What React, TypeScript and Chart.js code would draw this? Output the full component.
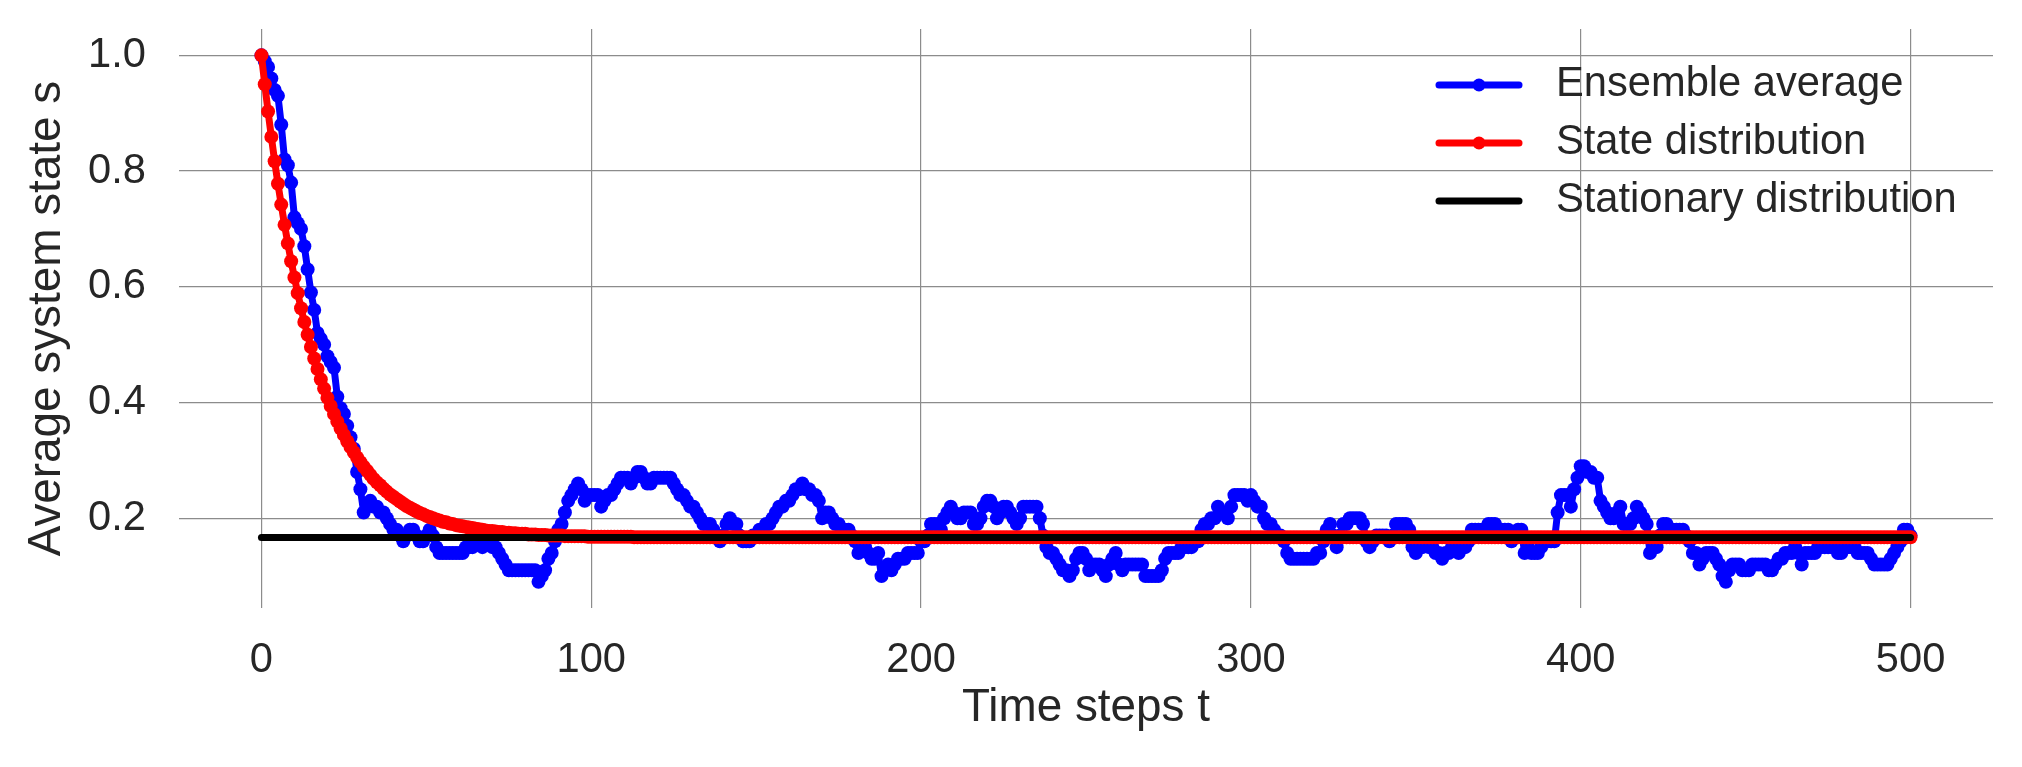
import React, { useEffect, useRef } from 'react';
import { Chart, registerables } from 'chart.js';

Chart.register(...registerables);

// ---- Data ----
const seriesLabels = ['Ensemble average', 'State distribution', 'Stationary distribution'];

const ensembleAverage = [
  1.00, 0.99, 0.98, 0.96, 0.94, 0.93, 0.88, 0.82, 0.81, 0.78,
  0.72, 0.71, 0.70, 0.67, 0.63, 0.59, 0.56, 0.52, 0.51, 0.50,
  0.48, 0.47, 0.46, 0.41, 0.39, 0.38, 0.36, 0.34, 0.32, 0.28,
  0.25, 0.21, 0.22, 0.23, 0.22, 0.22, 0.21, 0.21, 0.20, 0.19,
  0.18, 0.18, 0.17, 0.16, 0.17, 0.18, 0.18, 0.17, 0.16, 0.16,
  0.17, 0.18, 0.17, 0.15, 0.14, 0.14, 0.14, 0.14, 0.14, 0.14,
  0.14, 0.14, 0.15, 0.15, 0.15, 0.16, 0.16, 0.15, 0.16, 0.16,
  0.15, 0.15, 0.14, 0.13, 0.12, 0.11, 0.11, 0.11, 0.11, 0.11,
  0.11, 0.11, 0.11, 0.11, 0.09, 0.10, 0.11, 0.13, 0.14, 0.16,
  0.18, 0.19, 0.21, 0.23, 0.24, 0.25, 0.26, 0.25, 0.23, 0.24,
  0.24, 0.24, 0.24, 0.22, 0.23, 0.24, 0.24, 0.25, 0.26, 0.27,
  0.27, 0.27, 0.26, 0.27, 0.28, 0.28, 0.27, 0.26, 0.26, 0.27,
  0.27, 0.27, 0.27, 0.27, 0.27, 0.26, 0.25, 0.24, 0.24, 0.23,
  0.22, 0.22, 0.21, 0.20, 0.19, 0.19, 0.19, 0.18, 0.17, 0.16,
  0.17, 0.19, 0.20, 0.19, 0.19, 0.17, 0.16, 0.16, 0.16, 0.17,
  0.17, 0.18, 0.18, 0.19, 0.19, 0.20, 0.21, 0.22, 0.22, 0.23,
  0.23, 0.24, 0.25, 0.25, 0.26, 0.25, 0.25, 0.24, 0.24, 0.23,
  0.20, 0.21, 0.21, 0.20, 0.19, 0.19, 0.18, 0.18, 0.18, 0.17,
  0.16, 0.14, 0.15, 0.15, 0.14, 0.13, 0.13, 0.14, 0.10, 0.11,
  0.12, 0.11, 0.12, 0.13, 0.13, 0.13, 0.14, 0.14, 0.14, 0.14,
  0.16, 0.16, 0.17, 0.19, 0.19, 0.19, 0.18, 0.20, 0.21, 0.22,
  0.21, 0.20, 0.20, 0.21, 0.21, 0.21, 0.19, 0.19, 0.20, 0.22,
  0.23, 0.23, 0.22, 0.20, 0.21, 0.22, 0.22, 0.21, 0.20, 0.19,
  0.20, 0.22, 0.22, 0.22, 0.22, 0.22, 0.20, 0.17, 0.15, 0.14,
  0.14, 0.13, 0.12, 0.11, 0.11, 0.10, 0.11, 0.13, 0.14, 0.14,
  0.13, 0.11, 0.12, 0.12, 0.12, 0.11, 0.10, 0.12, 0.13, 0.14,
  0.12, 0.11, 0.12, 0.12, 0.12, 0.12, 0.12, 0.12, 0.10, 0.10,
  0.10, 0.10, 0.10, 0.11, 0.13, 0.14, 0.14, 0.14, 0.14, 0.15,
  0.15, 0.15, 0.15, 0.16, 0.16, 0.18, 0.19, 0.19, 0.20, 0.20,
  0.22, 0.21, 0.21, 0.20, 0.22, 0.24, 0.24, 0.24, 0.24, 0.23,
  0.24, 0.23, 0.22, 0.22, 0.20, 0.19, 0.19, 0.18, 0.17, 0.17,
  0.16, 0.14, 0.13, 0.13, 0.13, 0.13, 0.13, 0.13, 0.13, 0.13,
  0.14, 0.14, 0.16, 0.18, 0.19, 0.17, 0.15, 0.17, 0.19, 0.19,
  0.20, 0.20, 0.20, 0.20, 0.19, 0.16, 0.15, 0.16, 0.17, 0.17,
  0.17, 0.17, 0.16, 0.17, 0.19, 0.19, 0.19, 0.19, 0.18, 0.15,
  0.14, 0.16, 0.15, 0.16, 0.15, 0.15, 0.14, 0.14, 0.13, 0.14,
  0.14, 0.15, 0.15, 0.14, 0.15, 0.15, 0.16, 0.18, 0.18, 0.18,
  0.18, 0.18, 0.19, 0.19, 0.19, 0.18, 0.18, 0.18, 0.18, 0.16,
  0.17, 0.18, 0.18, 0.14, 0.15, 0.14, 0.14, 0.14, 0.15, 0.16,
  0.16, 0.16, 0.16, 0.21, 0.24, 0.24, 0.24, 0.22, 0.25, 0.27,
  0.29, 0.29, 0.28, 0.28, 0.27, 0.27, 0.23, 0.22, 0.21, 0.20,
  0.20, 0.21, 0.22, 0.19, 0.19, 0.19, 0.20, 0.22, 0.21, 0.20,
  0.19, 0.14, 0.15, 0.15, 0.17, 0.19, 0.19, 0.18, 0.18, 0.18,
  0.18, 0.18, 0.17, 0.16, 0.14, 0.14, 0.12, 0.13, 0.14, 0.14,
  0.14, 0.13, 0.12, 0.10, 0.09, 0.11, 0.12, 0.12, 0.12, 0.11,
  0.11, 0.11, 0.12, 0.12, 0.12, 0.12, 0.12, 0.11, 0.11, 0.12,
  0.13, 0.13, 0.14, 0.14, 0.14, 0.15, 0.14, 0.12, 0.14, 0.14,
  0.14, 0.14, 0.15, 0.15, 0.15, 0.15, 0.15, 0.15, 0.14, 0.14,
  0.15, 0.15, 0.15, 0.15, 0.14, 0.14, 0.14, 0.14, 0.13, 0.12,
  0.12, 0.12, 0.12, 0.12, 0.13, 0.14, 0.15, 0.16, 0.18, 0.18,
  0.17,
];

const stateDistribution = [
  1.000, 0.950, 0.903, 0.859, 0.817, 0.778, 0.742, 0.707, 0.675, 0.644,
  0.616, 0.589, 0.563, 0.539, 0.517, 0.496, 0.476, 0.458, 0.440, 0.424,
  0.408, 0.394, 0.380, 0.367, 0.355, 0.344, 0.333, 0.323, 0.314, 0.305,
  0.297, 0.289, 0.282, 0.275, 0.268, 0.262, 0.257, 0.251, 0.246, 0.241,
  0.237, 0.233, 0.229, 0.225, 0.221, 0.218, 0.215, 0.212, 0.209, 0.207,
  0.204, 0.202, 0.200, 0.198, 0.196, 0.194, 0.193, 0.191, 0.190, 0.188,
  0.187, 0.186, 0.185, 0.184, 0.183, 0.182, 0.181, 0.180, 0.179, 0.178,
  0.178, 0.177, 0.176, 0.176, 0.175, 0.175, 0.174, 0.174, 0.173, 0.173,
  0.173, 0.172, 0.172, 0.172, 0.171, 0.171, 0.171, 0.170, 0.170, 0.170,
  0.170, 0.170, 0.169, 0.169, 0.169, 0.169, 0.169, 0.169, 0.169, 0.168,
  0.168, 0.168, 0.168, 0.168, 0.168, 0.168, 0.168, 0.168, 0.168, 0.168,
  0.168, 0.168, 0.168, 0.167, 0.167, 0.167, 0.167, 0.167, 0.167, 0.167,
  0.167, 0.167, 0.167, 0.167, 0.167, 0.167, 0.167, 0.167, 0.167, 0.167,
  0.167, 0.167, 0.167, 0.167, 0.167, 0.167, 0.167, 0.167, 0.167, 0.167,
  0.167, 0.167, 0.167, 0.167, 0.167, 0.167, 0.167, 0.167, 0.167, 0.167,
  0.167, 0.167, 0.167, 0.167, 0.167, 0.167, 0.167, 0.167, 0.167, 0.167,
  0.167, 0.167, 0.167, 0.167, 0.167, 0.167, 0.167, 0.167, 0.167, 0.167,
  0.167, 0.167, 0.167, 0.167, 0.167, 0.167, 0.167, 0.167, 0.167, 0.167,
  0.167, 0.167, 0.167, 0.167, 0.167, 0.167, 0.167, 0.167, 0.167, 0.167,
  0.167, 0.167, 0.167, 0.167, 0.167, 0.167, 0.167, 0.167, 0.167, 0.167,
  0.167, 0.167, 0.167, 0.167, 0.167, 0.167, 0.167, 0.167, 0.167, 0.167,
  0.167, 0.167, 0.167, 0.167, 0.167, 0.167, 0.167, 0.167, 0.167, 0.167,
  0.167, 0.167, 0.167, 0.167, 0.167, 0.167, 0.167, 0.167, 0.167, 0.167,
  0.167, 0.167, 0.167, 0.167, 0.167, 0.167, 0.167, 0.167, 0.167, 0.167,
  0.167, 0.167, 0.167, 0.167, 0.167, 0.167, 0.167, 0.167, 0.167, 0.167,
  0.167, 0.167, 0.167, 0.167, 0.167, 0.167, 0.167, 0.167, 0.167, 0.167,
  0.167, 0.167, 0.167, 0.167, 0.167, 0.167, 0.167, 0.167, 0.167, 0.167,
  0.167, 0.167, 0.167, 0.167, 0.167, 0.167, 0.167, 0.167, 0.167, 0.167,
  0.167, 0.167, 0.167, 0.167, 0.167, 0.167, 0.167, 0.167, 0.167, 0.167,
  0.167, 0.167, 0.167, 0.167, 0.167, 0.167, 0.167, 0.167, 0.167, 0.167,
  0.167, 0.167, 0.167, 0.167, 0.167, 0.167, 0.167, 0.167, 0.167, 0.167,
  0.167, 0.167, 0.167, 0.167, 0.167, 0.167, 0.167, 0.167, 0.167, 0.167,
  0.167, 0.167, 0.167, 0.167, 0.167, 0.167, 0.167, 0.167, 0.167, 0.167,
  0.167, 0.167, 0.167, 0.167, 0.167, 0.167, 0.167, 0.167, 0.167, 0.167,
  0.167, 0.167, 0.167, 0.167, 0.167, 0.167, 0.167, 0.167, 0.167, 0.167,
  0.167, 0.167, 0.167, 0.167, 0.167, 0.167, 0.167, 0.167, 0.167, 0.167,
  0.167, 0.167, 0.167, 0.167, 0.167, 0.167, 0.167, 0.167, 0.167, 0.167,
  0.167, 0.167, 0.167, 0.167, 0.167, 0.167, 0.167, 0.167, 0.167, 0.167,
  0.167, 0.167, 0.167, 0.167, 0.167, 0.167, 0.167, 0.167, 0.167, 0.167,
  0.167, 0.167, 0.167, 0.167, 0.167, 0.167, 0.167, 0.167, 0.167, 0.167,
  0.167, 0.167, 0.167, 0.167, 0.167, 0.167, 0.167, 0.167, 0.167, 0.167,
  0.167, 0.167, 0.167, 0.167, 0.167, 0.167, 0.167, 0.167, 0.167, 0.167,
  0.167, 0.167, 0.167, 0.167, 0.167, 0.167, 0.167, 0.167, 0.167, 0.167,
  0.167, 0.167, 0.167, 0.167, 0.167, 0.167, 0.167, 0.167, 0.167, 0.167,
  0.167, 0.167, 0.167, 0.167, 0.167, 0.167, 0.167, 0.167, 0.167, 0.167,
  0.167, 0.167, 0.167, 0.167, 0.167, 0.167, 0.167, 0.167, 0.167, 0.167,
  0.167, 0.167, 0.167, 0.167, 0.167, 0.167, 0.167, 0.167, 0.167, 0.167,
  0.167, 0.167, 0.167, 0.167, 0.167, 0.167, 0.167, 0.167, 0.167, 0.167,
  0.167, 0.167, 0.167, 0.167, 0.167, 0.167, 0.167, 0.167, 0.167, 0.167,
  0.167, 0.167, 0.167, 0.167, 0.167, 0.167, 0.167, 0.167, 0.167, 0.167,
  0.167,
];

const stationaryTimes = [0, 500];
const stationaryValues = [0.1667, 0.1667];

const xTicks = [0, 100, 200, 300, 400, 500];
const yTicks = [0.2, 0.4, 0.6, 0.8, 1.0];
const xTitle = 'Time steps t';
const yTitle = 'Average system state s';

// ---- Styling ----
const FONT = '"Liberation Sans", Arial, Helvetica, sans-serif';
const TEXT = '#262626';
const GRID = '#8c8c8c';
const POINT_R = 7;

const insideLegend = {
  id: 'insideLegend',
  afterDraw(chart: any) {
    const ctx = chart.ctx as CanvasRenderingContext2D;
    ctx.save();
    chart.data.datasets.forEach((ds: any, i: number) => {
      const y = 85 + i * 58;
      ctx.strokeStyle = ds.borderColor;
      ctx.lineWidth = 7;
      ctx.lineCap = 'round';
      ctx.beginPath();
      ctx.moveTo(1439, y);
      ctx.lineTo(1519, y);
      ctx.stroke();
      if (ds.pointRadius > 0) {
        ctx.fillStyle = ds.borderColor;
        ctx.beginPath();
        ctx.arc(1479, y, 6.5, 0, Math.PI * 2);
        ctx.fill();
      }
      ctx.fillStyle = TEXT;
      ctx.font = `41.67px ${FONT}`;
      ctx.textAlign = 'left';
      ctx.textBaseline = 'middle';
      ctx.fillText(ds.label, 1556, y);
    });
    ctx.restore();
  },
};

export default function App() {
  const ref = useRef<HTMLCanvasElement>(null);

  useEffect(() => {
    document.body.style.margin = '0';
    const canvas = ref.current;
    if (!canvas) return;

    const chart = new Chart(canvas, {
      type: 'line',
      data: {
        datasets: [
          {
            label: seriesLabels[0],
            data: ensembleAverage.map((v, i) => ({ x: i, y: v })),
            borderColor: '#0000ff',
            backgroundColor: '#0000ff',
            borderWidth: 7,
            pointRadius: POINT_R,
            pointBorderWidth: 0,
            pointBackgroundColor: '#0000ff',
            tension: 0,
            borderJoinStyle: 'round',
            borderCapStyle: 'round',
            order: 3,
          },
          {
            label: seriesLabels[1],
            data: stateDistribution.map((v, i) => ({ x: i, y: v })),
            borderColor: '#ff0000',
            backgroundColor: '#ff0000',
            borderWidth: 7,
            pointRadius: POINT_R,
            pointBorderWidth: 0,
            pointBackgroundColor: '#ff0000',
            tension: 0,
            borderJoinStyle: 'round',
            borderCapStyle: 'round',
            order: 2,
          },
          {
            label: seriesLabels[2],
            data: stationaryTimes.map((t, i) => ({ x: t, y: stationaryValues[i] })),
            borderColor: '#000000',
            backgroundColor: '#000000',
            borderWidth: 7,
            pointRadius: 0,
            tension: 0,
            borderCapStyle: 'round',
            order: 1,
          },
        ],
      },
      options: {
        animation: false,
        responsive: false,
        devicePixelRatio: 1,
        parsing: false as any,
        normalized: true,
        layout: { padding: { top: 29, right: 29, left: 0, bottom: 0 } },
        plugins: {
          legend: { display: false },
          tooltip: { enabled: false },
        },
        scales: {
          x: {
            type: 'linear',
            min: -25,
            max: 525,
            afterBuildTicks: (s: any) => {
              s.ticks = xTicks.map((v) => ({ value: v }));
            },
            afterFit: (s: any) => {
              s.height = 158.8;
              s.paddingLeft = 0;
              s.paddingRight = 0;
            },
            ticks: {
              color: TEXT,
              font: { family: FONT, size: 41.67 },
              padding: 27,
              maxRotation: 0,
              autoSkip: false,
              callback: (v: any) => String(v),
            },
            grid: { color: GRID, lineWidth: 1.2, drawTicks: false },
            border: { display: false },
            title: {
              display: true,
              text: xTitle,
              color: TEXT,
              font: { family: FONT, size: 45.83 },
              padding: { top: 0, bottom: 31 },
            },
          },
          y: {
            type: 'linear',
            min: 0.0445,
            max: 1.0455,
            afterBuildTicks: (s: any) => {
              s.ticks = yTicks.map((v) => ({ value: v }));
            },
            afterFit: (s: any) => {
              s.width = 179;
              s.paddingTop = 0;
              s.paddingBottom = 0;
            },
            ticks: {
              color: TEXT,
              font: { family: FONT, size: 41.67 },
              padding: 33,
              autoSkip: false,
              callback: (v: any) => Number(v).toFixed(1),
            },
            grid: { color: GRID, lineWidth: 1.2, drawTicks: false },
            border: { display: false },
            title: {
              display: true,
              text: yTitle,
              color: TEXT,
              font: { family: FONT, size: 45.83 },
              padding: { top: 20, bottom: 0 },
            },
          },
        },
      } as any,
      plugins: [insideLegend],
    });

    return () => chart.destroy();
  }, []);

  return (
    <div style={{ position: 'absolute', left: 0, top: 0, width: 2022, height: 767, background: '#ffffff' }}>
      <canvas ref={ref} width={2022} height={767} style={{ display: 'block' }} />
    </div>
  );
}
